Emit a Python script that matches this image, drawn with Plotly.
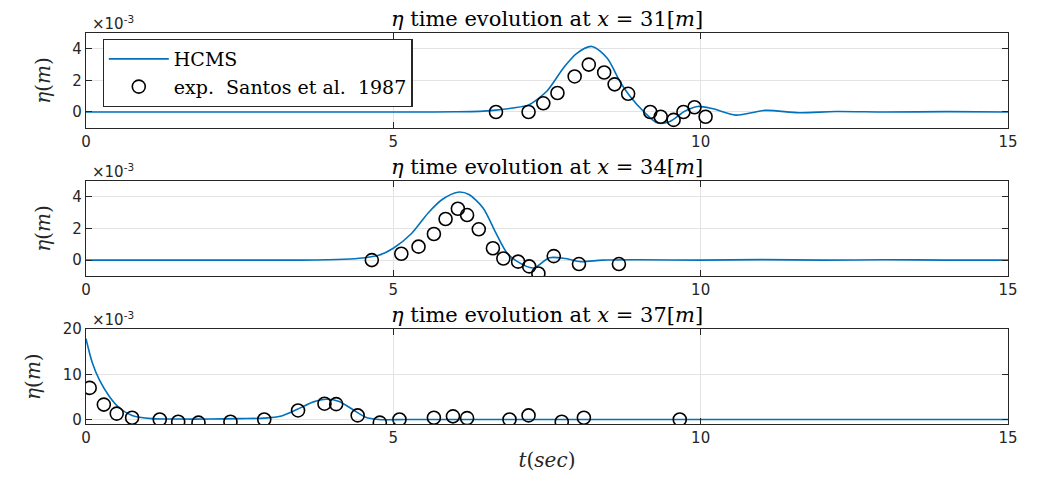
import plotly.graph_objects as go

# ---------------- data (eta in units of 1e-3 m) ----------------
t_sim_31 = [0, 2, 4, 5.5, 6.0, 6.4, 6.67, 6.95, 7.2, 7.5, 7.77, 7.98, 8.23, 8.48, 8.69, 8.85,
            9.08, 9.3, 9.5, 9.74, 9.95, 10.2, 10.57, 11.05, 11.6, 12.2, 13, 14, 15]
eta_sim_31 = [0, 0, 0, 0, 0.01, 0.04, 0.12, 0.25, 0.45, 1.33, 2.8, 3.7, 4.15, 3.4, 1.9, 1.0,
              0.0, -0.7, -0.6, 0.05, 0.35, 0.2, -0.2, 0.1, -0.05, 0.03, 0, 0.02, 0]
t_exp_31 = [6.67, 7.2, 7.44, 7.67, 7.95, 8.18, 8.43, 8.6, 8.82, 9.18, 9.35, 9.56, 9.72, 9.9, 10.08]
eta_exp_31 = [0, 0, 0.55, 1.2, 2.25, 3.0, 2.5, 1.75, 1.15, 0, -0.3, -0.5, 0, 0.3, -0.3]

t_sim_34 = [0, 2, 3.5, 4.2, 4.5, 4.76, 5.0, 5.3, 5.57, 5.8, 6.05, 6.23, 6.46, 6.67, 6.84,
            7.0, 7.28, 7.54, 7.8, 8.05, 8.4, 9, 10, 11, 12, 13, 14, 15]
eta_sim_34 = [0, 0, 0, 0.05, 0.13, 0.3, 0.75, 1.7, 3.0, 3.85, 4.3, 4.15, 3.3, 1.7, 0.5,
              -0.05, -0.5, 0.15, 0.1, -0.1, 0, 0.02, 0, 0.03, 0, 0.02, 0, 0]
t_exp_34 = [4.65, 5.13, 5.41, 5.66, 5.85, 6.05, 6.2, 6.39, 6.62, 6.79, 7.03, 7.21, 7.36, 7.61, 8.02, 8.67]
eta_exp_34 = [0, 0.4, 0.85, 1.65, 2.6, 3.25, 2.85, 1.95, 0.75, 0.1, -0.1, -0.4, -0.85, 0.25, -0.25, -0.25]

t_sim_37 = [0, 0.1, 0.22, 0.38, 0.54, 0.75, 1.07, 1.5, 2.0, 2.5, 2.9, 3.16, 3.43, 3.7, 3.91,
            4.12, 4.34, 4.55, 4.76, 5.2, 6, 8, 10, 12, 15]
eta_sim_37 = [17.9, 12.7, 8.7, 5.1, 2.6, 0.9, 0.2, 0.1, 0.1, 0.2, 0.3, 0.7, 2.2, 3.9, 4.5,
              4.0, 2.2, 0.5, 0.0, 0.0, 0, 0, 0, 0, 0]
t_exp_37 = [0.06, 0.29, 0.5, 0.75, 1.2, 1.5, 1.83, 2.35, 2.9, 3.45, 3.88, 4.07, 4.42, 4.78,
            5.1, 5.66, 5.97, 6.2, 6.89, 7.2, 7.74, 8.1, 9.66]
eta_exp_37 = [7.0, 3.3, 1.3, 0.4, 0, -0.5, -0.7, -0.5, 0, 2.0, 3.5, 3.4, 0.9, -0.7,
              0, 0.4, 0.7, 0.3, 0, 0.9, -0.5, 0.4, 0]

locations = ["31", "34", "37"]
x_ticks = [0, 5, 10, 15]
y_ticks = [[0, 2, 4], [0, 2, 4], [0, 10, 20]]
y_ranges = [[-1, 5], [-1, 5], [-1, 20]]

sims = [(t_sim_31, eta_sim_31), (t_sim_34, eta_sim_34), (t_sim_37, eta_sim_37)]
exps = [(t_exp_31, eta_exp_31), (t_exp_34, eta_exp_34), (t_exp_37, eta_exp_37)]

# ---------------- figure ----------------
LINE = "#0072BD"
AX = "#262626"
SERIF = "DejaVu Serif"
SANS = "DejaVu Sans"

fig = go.Figure()
domains = [[0.7576, 1.0], [0.3788, 0.6212], [0.0, 0.2424]]

for i in range(3):
    xa = "x" if i == 0 else f"x{i+1}"
    ya = "y" if i == 0 else f"y{i+1}"
    fig.add_trace(go.Scatter(x=sims[i][0], y=sims[i][1], mode="lines", name="HCMS",
                             line=dict(color=LINE, width=1.6, shape="spline", smoothing=0.8),
                             xaxis=xa, yaxis=ya, showlegend=(i == 0)))
    fig.add_trace(go.Scatter(x=exps[i][0], y=exps[i][1], mode="markers",
                             name="exp.  Santos et al.  1987",
                             marker=dict(symbol="circle-open", size=13, color="black",
                                         line=dict(width=1.6, color="black")),
                             xaxis=xa, yaxis=ya, showlegend=(i == 0)))

axis_common = dict(showline=True, mirror="ticks", linecolor=AX, linewidth=1.3,
                   ticks="inside", ticklen=6, tickcolor=AX, showgrid=True,
                   gridcolor="#e3e3e3", gridwidth=1, zeroline=False,
                   tickfont=dict(family=SANS, size=15, color=AX))

layout = dict(
    width=1037, height=479,
    margin=dict(l=86, r=29, t=33, b=50),
    paper_bgcolor="white", plot_bgcolor="white",
    showlegend=True,
    legend=dict(x=0.018, y=0.985, xanchor="left", yanchor="top",
                bgcolor="white", bordercolor=AX, borderwidth=1.2,
                font=dict(family=SERIF, size=19, color="black"),
                itemwidth=60, tracegroupgap=0),
)

annotations = []
for i in range(3):
    xkey = "xaxis" if i == 0 else f"xaxis{i+1}"
    ykey = "yaxis" if i == 0 else f"yaxis{i+1}"
    ya = "y" if i == 0 else f"y{i+1}"
    xa = "x" if i == 0 else f"x{i+1}"
    xd = dict(axis_common, domain=[0, 1], range=[0, 15], tickvals=x_ticks, anchor=ya)
    if i == 2:
        xd["title"] = dict(text="<i>t</i>(<i>sec</i>)", font=dict(family=SERIF, size=20, color=AX),
                           standoff=6)
    yd = dict(axis_common, domain=domains[i], range=y_ranges[i], tickvals=y_ticks[i], anchor=xa,
              title=dict(text="<i>η</i>(<i>m</i>)", font=dict(family=SERIF, size=20, color=AX),
                         standoff=16))
    layout[xkey] = xd
    layout[ykey] = yd
    top = domains[i][1]
    annotations.append(dict(
        text=f"<i>η</i> time evolution at <i>x</i> = {locations[i]}[<i>m</i>]",
        x=0.5, y=top, xref="paper", yref="paper", xanchor="center", yanchor="bottom",
        yshift=0, showarrow=False, font=dict(family=SERIF, size=21, color="black")))
    annotations.append(dict(
        text="×10<sup>-3</sup>", x=0.0, y=top, xref="paper", yref="paper",
        xanchor="left", yanchor="bottom", xshift=4, yshift=-2, showarrow=False,
        font=dict(family=SANS, size=15, color=AX)))

layout["annotations"] = annotations
fig.update_layout(**layout)

fig.write_html("out.html")
